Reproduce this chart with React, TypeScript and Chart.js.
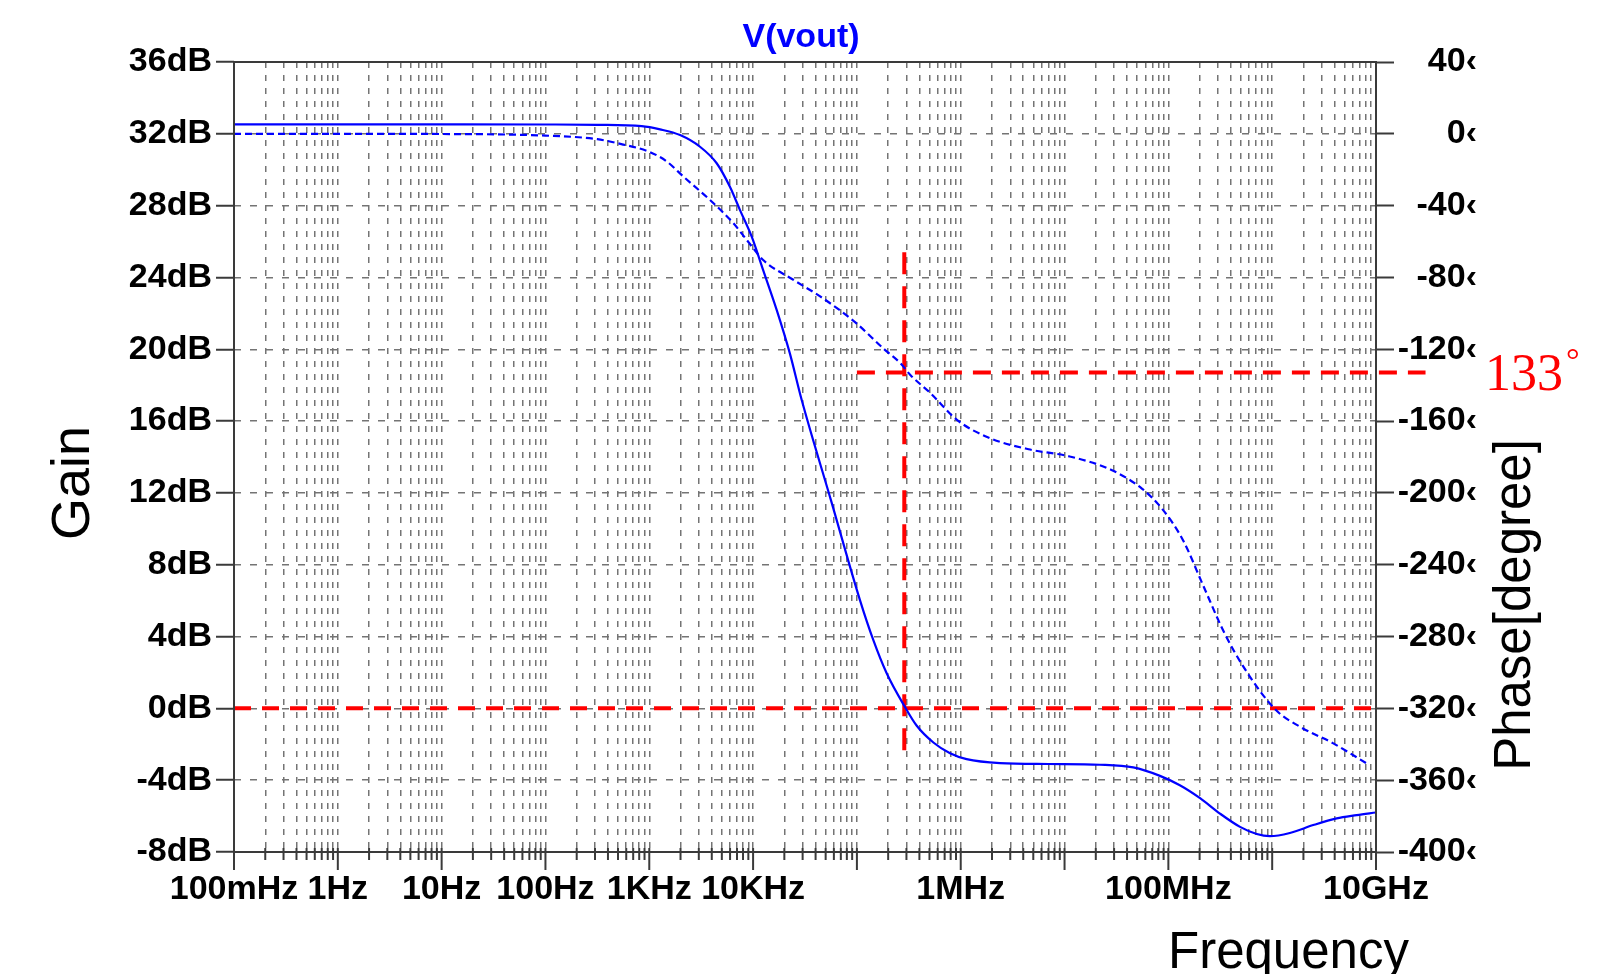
import React, { useEffect, useRef } from 'react';
import { Chart, registerables } from 'chart.js';

Chart.register(...registerables);

// ---- data (frequency in Hz) ----
const gainFreqHz = [0.1, 1, 10, 100, 316, 845, 1270, 1980, 3080, 4460, 5980, 7480, 9700, 12500, 16900, 22600, 29400, 56200, 107000, 144000, 194000, 290000, 377000, 545000, 789000, 1140000, 2390000, 7000000, 21900000, 45900000, 83000000, 129000000, 202000000, 314000000, 490000000, 710000000, 950000000, 1480000000, 2490000000, 4180000000, 6520000000, 10000000000];
const gainDb = [32.53, 32.53, 32.53, 32.52, 32.5, 32.43, 32.25, 31.93, 31.28, 30.36, 29.05, 27.75, 26.27, 24.41, 22.18, 19.77, 17.17, 11.6, 6.03, 3.8, 1.94, 0.08, -0.97, -1.9, -2.5, -2.83, -3.05, -3.1, -3.14, -3.29, -3.76, -4.28, -5.0, -5.86, -6.6, -7.0, -7.12, -6.94, -6.5, -6.13, -5.95, -5.8];

const phaseFreqHz = [0.1, 1, 10, 100, 316, 562, 1000, 1480, 2140, 3850, 6460, 8690, 12500, 24400, 47100, 93300, 186000, 263000, 327000, 513000, 914000, 1820000, 4510000, 11200000, 28000000, 55600000, 87500000, 138000000, 218000000, 345000000, 543000000, 1080000000, 1850000000, 3880000000, 8300000000];
const phaseDeg = [0, 0, -0.1, -1, -3, -6, -10, -15.5, -23.9, -36.9, -49.8, -59.1, -70.3, -81.3, -91.6, -104.3, -120.3, -127.8, -134.3, -144.5, -159.2, -169, -175.7, -179.7, -187.1, -197.6, -209, -226.2, -252, -277.8, -297.9, -320.8, -330.2, -339.5, -351];

// red marker lines
const zeroDbLineFreqHz = [0.1, 10000000000];
const zeroDbLineDb = [0, 0];
const crossoverLineFreqHz = [286000, 286000];
const crossoverLineDb = [25.4, -2.6];
const phaseMarkLineFreqHz = [100000, 30000000000];
const phaseMarkLineDeg = [-133, -133];
const phaseMarkText = '133';

// axes
const gainTickValues = [36, 32, 28, 24, 20, 16, 12, 8, 4, 0, -4, -8];
const gainTickLabels = ['36dB', '32dB', '28dB', '24dB', '20dB', '16dB', '12dB', '8dB', '4dB', '0dB', '-4dB', '-8dB'];
const phaseTickValues = [40, 0, -40, -80, -120, -160, -200, -240, -280, -320, -360, -400];
const phaseTickLabels = ['40\u2039', '0\u2039', '-40\u2039', '-80\u2039', '-120\u2039', '-160\u2039', '-200\u2039', '-240\u2039', '-280\u2039', '-320\u2039', '-360\u2039', '-400\u2039'];
const freqLabelValues = [0.1, 1, 10, 100, 1000, 10000, 1000000, 100000000, 10000000000];
const freqLabels = ['100mHz', '1Hz', '10Hz', '100Hz', '1KHz', '10KHz', '1MHz', '100MHz', '10GHz'];
const decadeStartsHz = [0.1, 1, 10, 100, 1000, 10000, 100000, 1000000, 10000000, 100000000, 1000000000];
const minorMultipliers = [1, 2, 3, 4, 5, 6, 7, 8, 9];
const freqGridValues = [...decadeStartsHz.flatMap((d) => minorMultipliers.map((m) => d * m)), 10000000000];

const titleText = 'V(vout)';
const gainAxisTitle = 'Gain';
const phaseAxisTitle = 'Phase[degree]';
const freqAxisTitle = 'Frequency';

const SANS = '"Liberation Sans", Arial, sans-serif';
const AXIS_COLOR = '#3a3a3a';
const GRID_COLOR = '#747474';
const BLUE = '#0000ff';
const RED = '#ff0000';

const isDecade = (v: number) => Math.abs(Math.log10(v) - Math.round(Math.log10(v))) < 1e-9;

const pairs = (xs: number[], ys: number[]) => xs.map((x, i) => ({ x, y: ys[i] }));

const decorPlugin = {
  id: 'decor',
  afterDatasetsDraw(chart: any) {
    const { ctx, chartArea: ca, scales } = chart;
    const xs = scales.x;
    const yp = scales.yPhase;
    ctx.save();
    // plot box
    ctx.strokeStyle = AXIS_COLOR;
    ctx.lineWidth = 2;
    ctx.setLineDash([]);
    ctx.strokeRect(ca.left, ca.top, ca.right - ca.left, ca.bottom - ca.top);
    // x tick marks
    for (const v of freqGridValues) {
      const px = xs.getPixelForValue(v);
      ctx.beginPath();
      ctx.moveTo(px, ca.bottom - 4);
      ctx.lineTo(px, ca.bottom + (isDecade(v) ? 18 : 8));
      ctx.stroke();
    }
    // title
    ctx.fillStyle = BLUE;
    ctx.font = `bold 34px ${SANS}`;
    ctx.textAlign = 'center';
    ctx.textBaseline = 'alphabetic';
    ctx.fillText(titleText, (ca.left + ca.right) / 2 - 4, 47);
    // axis titles
    ctx.fillStyle = '#000';
    ctx.font = `54px ${SANS}`;
    ctx.save();
    ctx.translate(89, 483);
    ctx.rotate(-Math.PI / 2);
    ctx.fillText(gainAxisTitle, 0, 0);
    ctx.restore();
    ctx.font = `51px ${SANS}`;
    ctx.save();
    ctx.translate(1530, 605);
    ctx.rotate(-Math.PI / 2);
    ctx.fillText(phaseAxisTitle, 0, 0);
    ctx.restore();
    ctx.textAlign = 'left';
    ctx.fillText(freqAxisTitle, 1168, 968);
    // phase marker label
    const yMark = yp.getPixelForValue(phaseMarkLineDeg[0]);
    ctx.fillStyle = RED;
    ctx.font = `52px "Liberation Serif", "DejaVu Serif", serif`;
    ctx.fillText(phaseMarkText, 1485, yMark + 17);
    const w = ctx.measureText(phaseMarkText).width;
    ctx.font = `34px "Liberation Serif", "DejaVu Serif", serif`;
    ctx.fillText('\u00B0', 1485 + w + 3, yMark - 2);
    ctx.restore();
  },
};

export default function App() {
  const ref = useRef<HTMLCanvasElement>(null);
  useEffect(() => {
    if (!ref.current) return;
    const tickFont = { family: SANS, size: 34, weight: 'bold' as const };
    const chart = new Chart(ref.current, {
      type: 'line',
      data: {
        datasets: [
          {
            label: 'Gain',
            data: pairs(gainFreqHz, gainDb),
            yAxisID: 'yGain',
            borderColor: BLUE,
            borderWidth: 2.2,
            pointRadius: 0,
            cubicInterpolationMode: 'monotone',
          },
          {
            label: 'Phase',
            data: pairs(phaseFreqHz, phaseDeg),
            yAxisID: 'yPhase',
            borderColor: BLUE,
            borderWidth: 2.2,
            borderDash: [7, 4],
            pointRadius: 0,
            cubicInterpolationMode: 'monotone',
          },
          {
            label: '0dB',
            data: pairs(zeroDbLineFreqHz, zeroDbLineDb),
            yAxisID: 'yGain',
            borderColor: RED,
            borderWidth: 4,
            borderDash: [17, 11],
            pointRadius: 0,
            tension: 0,
          },
          {
            label: 'crossover',
            data: pairs(crossoverLineFreqHz, crossoverLineDb),
            yAxisID: 'yGain',
            borderColor: RED,
            borderWidth: 4,
            borderDash: [22, 12],
            pointRadius: 0,
            tension: 0,
          },
          {
            label: 'phase margin',
            data: pairs(phaseMarkLineFreqHz, phaseMarkLineDeg),
            yAxisID: 'yPhase',
            borderColor: RED,
            borderWidth: 4,
            borderDash: [18, 11],
            pointRadius: 0,
            tension: 0,
            clip: false as any,
          },
        ],
      },
      options: {
        animation: false,
        responsive: false,
        devicePixelRatio: 1,
        layout: { padding: { top: 62, right: 136, left: 0, bottom: 0 } },
        plugins: { legend: { display: false }, tooltip: { enabled: false }, title: { display: false } },
        events: [],
        scales: {
          x: {
            type: 'logarithmic',
            min: 0.1,
            max: 10000000000,
            afterBuildTicks: (s: any) => {
              s.ticks = freqGridValues.map((v) => ({ value: v }));
            },
            afterFit: (s: any) => {
              s.height = 122;
            },
            grid: { color: GRID_COLOR, lineWidth: 1.5, drawTicks: false },
            border: { display: false, dash: [6, 7] },
            ticks: {
              autoSkip: false,
              maxRotation: 0,
              minRotation: 0,
              padding: 17,
              color: '#000',
              font: tickFont,
              callback: (value: any) => {
                const i = freqLabelValues.findIndex((v) => Math.abs(Math.log10(v) - Math.log10(Number(value))) < 1e-6);
                return i >= 0 ? freqLabels[i] : '';
              },
            },
          },
          yGain: {
            type: 'linear',
            position: 'left',
            min: -8,
            max: 36,
            afterBuildTicks: (s: any) => {
              s.ticks = [...gainTickValues].reverse().map((v) => ({ value: v }));
            },
            afterFit: (s: any) => {
              s.width = 234;
            },
            grid: { color: GRID_COLOR, lineWidth: 1.5, drawTicks: true, tickLength: 18, tickColor: AXIS_COLOR, tickWidth: 2 },
            border: { display: false, dash: [7, 9] },
            ticks: {
              padding: 4,
              color: '#000',
              font: tickFont,
              callback: (value: any) => {
                const i = gainTickValues.indexOf(Number(value));
                return i >= 0 ? gainTickLabels[i] : '';
              },
            },
          },
          yPhase: {
            type: 'linear',
            position: 'right',
            min: -400,
            max: 40,
            afterBuildTicks: (s: any) => {
              s.ticks = [...phaseTickValues].reverse().map((v) => ({ value: v }));
            },
            afterFit: (s: any) => {
              s.width = 101;
            },
            grid: { drawOnChartArea: false, drawTicks: true, tickLength: 18, tickColor: AXIS_COLOR, tickWidth: 2 },
            border: { display: false },
            ticks: {
              padding: 4,
              crossAlign: 'far',
              color: '#000',
              font: tickFont,
              callback: (value: any) => {
                const i = phaseTickValues.indexOf(Number(value));
                return i >= 0 ? phaseTickLabels[i] : '';
              },
            },
          },
        },
      },
      plugins: [decorPlugin],
    } as any);
    return () => chart.destroy();
  }, []);

  return (
    <div style={{ position: 'fixed', left: 0, top: 0, width: 1613, height: 974, background: '#fff' }}>
      <canvas ref={ref} width={1613} height={974} style={{ display: 'block', width: 1613, height: 974 }} />
    </div>
  );
}
